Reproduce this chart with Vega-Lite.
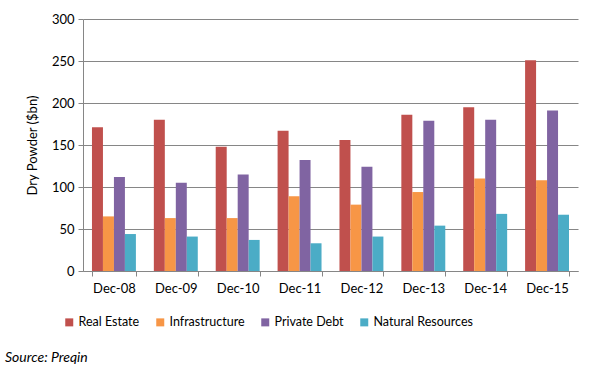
{
  "$schema": "https://vega.github.io/schema/vega-lite/v6.json",
  "width": 495,
  "height": 252,
  "autosize": {"type": "none"},
  "padding": {"left": 83, "top": 19, "right": 21, "bottom": 102},
  "background": "white",
  "config": {"view": {"stroke": null}, "font": "Lato"},
  "data": {
    "values": [
      {"period": "Dec-08", "series": "Real Estate", "value": 171},
      {"period": "Dec-08", "series": "Infrastructure", "value": 65},
      {"period": "Dec-08", "series": "Private Debt", "value": 112},
      {"period": "Dec-08", "series": "Natural Resources", "value": 44},
      {"period": "Dec-09", "series": "Real Estate", "value": 180},
      {"period": "Dec-09", "series": "Infrastructure", "value": 63},
      {"period": "Dec-09", "series": "Private Debt", "value": 105},
      {"period": "Dec-09", "series": "Natural Resources", "value": 41},
      {"period": "Dec-10", "series": "Real Estate", "value": 148},
      {"period": "Dec-10", "series": "Infrastructure", "value": 63},
      {"period": "Dec-10", "series": "Private Debt", "value": 115},
      {"period": "Dec-10", "series": "Natural Resources", "value": 37},
      {"period": "Dec-11", "series": "Real Estate", "value": 167},
      {"period": "Dec-11", "series": "Infrastructure", "value": 89},
      {"period": "Dec-11", "series": "Private Debt", "value": 132},
      {"period": "Dec-11", "series": "Natural Resources", "value": 33},
      {"period": "Dec-12", "series": "Real Estate", "value": 156},
      {"period": "Dec-12", "series": "Infrastructure", "value": 79},
      {"period": "Dec-12", "series": "Private Debt", "value": 124},
      {"period": "Dec-12", "series": "Natural Resources", "value": 41},
      {"period": "Dec-13", "series": "Real Estate", "value": 186},
      {"period": "Dec-13", "series": "Infrastructure", "value": 94},
      {"period": "Dec-13", "series": "Private Debt", "value": 179},
      {"period": "Dec-13", "series": "Natural Resources", "value": 54},
      {"period": "Dec-14", "series": "Real Estate", "value": 195},
      {"period": "Dec-14", "series": "Infrastructure", "value": 110},
      {"period": "Dec-14", "series": "Private Debt", "value": 180},
      {"period": "Dec-14", "series": "Natural Resources", "value": 68},
      {"period": "Dec-15", "series": "Real Estate", "value": 251},
      {"period": "Dec-15", "series": "Infrastructure", "value": 108},
      {"period": "Dec-15", "series": "Private Debt", "value": 191},
      {"period": "Dec-15", "series": "Natural Resources", "value": 67}
    ]
  },
  "mark": {"type": "bar"},
  "encoding": {
    "x": {
      "field": "period",
      "type": "nominal",
      "sort": ["Dec-08", "Dec-09", "Dec-10", "Dec-11", "Dec-12", "Dec-13", "Dec-14", "Dec-15"],
      "scale": {"paddingInner": 0.29, "paddingOuter": 0.145},
      "axis": {
        "title": null,
        "labelAngle": 0,
        "tickBand": "extent",
        "domainColor": "#868686",
        "tickColor": "#868686",
        "tickSize": 5,
        "labelPadding": 6,
        "labelFont": "Lato",
        "labelFontSize": 13,
        "labelColor": "#000000"
      }
    },
    "xOffset": {
      "field": "series",
      "type": "nominal",
      "sort": ["Real Estate", "Infrastructure", "Private Debt", "Natural Resources"],
      "scale": {"paddingInner": 0, "paddingOuter": 0}
    },
    "y": {
      "field": "value",
      "type": "quantitative",
      "scale": {"domain": [0, 300]},
      "axis": {
        "values": [0, 50, 100, 150, 200, 250, 300],
        "title": "Dry Powder ($bn)",
        "titleFont": "Lato",
        "titleFontSize": 13,
        "titleFontWeight": "normal",
        "titleColor": "#000000",
        "titlePadding": 12,
        "gridColor": "#868686",
        "domainColor": "#868686",
        "tickColor": "#868686",
        "tickSize": 5,
        "labelPadding": 4,
        "labelFont": "Lato",
        "labelFontSize": 13,
        "labelColor": "#000000"
      }
    },
    "color": {
      "field": "series",
      "type": "nominal",
      "scale": {
        "domain": ["Real Estate", "Infrastructure", "Private Debt", "Natural Resources"],
        "range": ["#C0504D", "#F79646", "#8064A2", "#4BACC6"]
      },
      "legend": {
        "title": null,
        "orient": "none",
        "direction": "horizontal",
        "legendX": -20,
        "legendY": 297,
        "symbolType": "square",
        "symbolSize": 64,
        "symbolStrokeWidth": 0,
        "labelFont": "Lato",
        "labelFontSize": 12.5,
        "labelColor": "#000000",
        "labelOffset": 3,
        "columnPadding": 14
      }
    }
  },
  "title": {
    "text": "Source: Preqin",
    "orient": "bottom",
    "anchor": "start",
    "frame": "group",
    "font": "Lato",
    "fontSize": 14,
    "fontStyle": "italic",
    "fontWeight": "normal",
    "color": "#000000",
    "dx": -78,
    "offset": 22
  }
}
